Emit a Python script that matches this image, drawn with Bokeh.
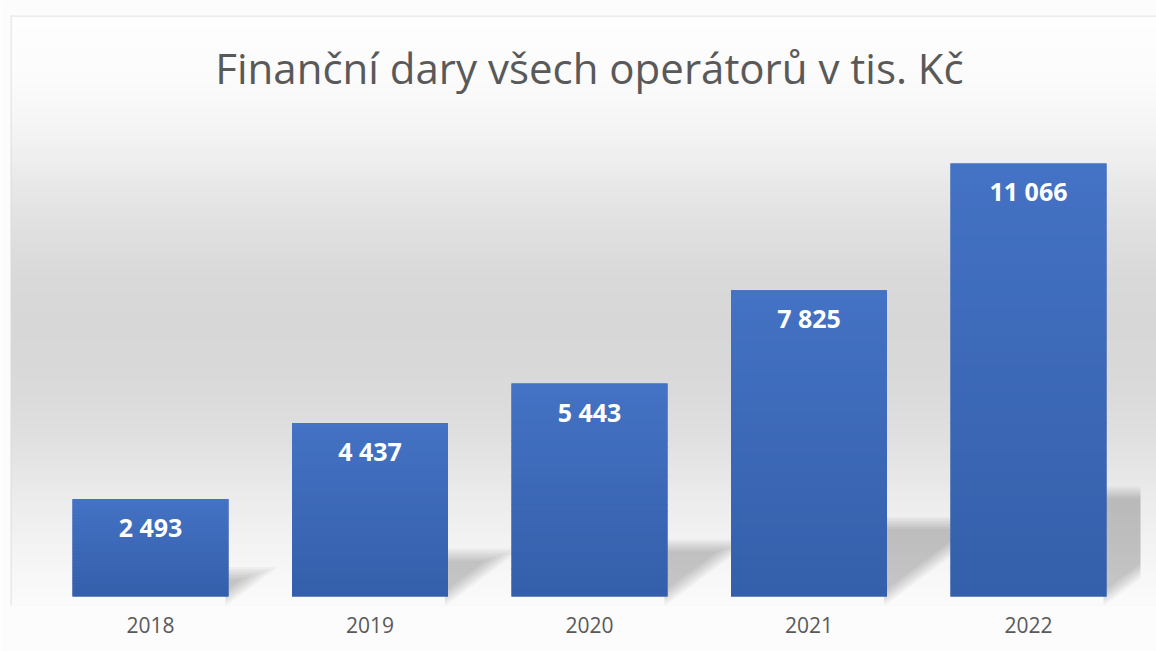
import numpy as np
from bokeh.plotting import figure
from bokeh.models import Range1d, Label, Span, FixedTicker
from bokeh.core.properties import value
from bokeh.embed import file_html
from bokeh.resources import INLINE

# ---- data ----
years = ["2018", "2019", "2020", "2021", "2022"]
donations = [2493, 4437, 5443, 7825, 11066]
title_text = "Finanční dary všech operátorů v tis. Kč"

# ---- layout constants (page px -> data) ----
PX_X = 219.5          # px per category
PX_Y = 0.03913        # px per unit
X0_PAGE = 150.0       # page x of first category
Y0_PAGE = 596.0       # page y of value 0
W, H_FIG = 1156, 651
FRAME_L, FRAME_R, FRAME_T, FRAME_B = 10.0, 1156.0, 15.0, 605.0

def dx(page_x):
    return (page_x - X0_PAGE) / PX_X

def dy(page_y):
    return (Y0_PAGE - page_y) / PX_Y

x_start, x_end = dx(FRAME_L), dx(FRAME_R)
y_start, y_end = dy(FRAME_B), dy(FRAME_T)

p = figure(width=W, height=H_FIG,
           x_range=Range1d(x_start, x_end), y_range=Range1d(y_start, y_end),
           output_backend="svg", toolbar_location=None, y_axis_location=None,
           min_border_left=int(FRAME_L), min_border_right=0, min_border_top=int(FRAME_T),
           min_border_bottom=int(H_FIG - FRAME_B))
p.background_fill_color = "#f0f0f0"
p.border_fill_color = "#fcfcfc"
p.outline_line_color = None
p.grid.visible = False

# ---- background gradient (style) ----
stops_y = [15, 80, 120, 160, 200, 240, 280, 320, 360, 400, 440, 470, 500, 540, 580, 610, 643]
stops_g = [254, 251, 246, 238, 229, 222, 217, 215, 216, 219, 224, 230, 236, 242, 248, 251, 252]
edges = np.arange(FRAME_T, FRAME_B + 4, 4.0)
tops, bots, cols = [], [], []
for a, b in zip(edges[:-1], edges[1:]):
    g = int(round(np.interp((a + b) / 2, stops_y, stops_g)))
    tops.append(dy(a) + 0.5 / PX_Y)
    bots.append(dy(b))
    cols.append("#%02x%02x%02x" % (g, g, g))
p.quad(left=x_start, right=x_end, top=tops, bottom=bots, fill_color=cols, line_color=None)

# ---- bars ----
idx = list(range(len(years)))
bar_w = 156 / PX_X

# shadows (blurred triangle behind each bar's right side)
SH_B = 0.24
SH_S = 0.75
clip_x = dx(1140)

def clip_poly(xs, ys, xmax):
    out = []
    pts = list(zip(xs, ys))
    for i in range(len(pts)):
        (x1, y1), (x2, y2) = pts[i], pts[(i + 1) % len(pts)]
        in1, in2 = x1 <= xmax, x2 <= xmax
        if in1:
            out.append((x1, y1))
        if in1 != in2:
            t = (xmax - x1) / (x2 - x1)
            out.append((xmax, y1 + t * (y2 - y1)))
    return [q[0] for q in out], [q[1] for q in out]

sx, sy = [], []
for i, v in zip(idx, donations):
    H = v * PX_Y
    T = SH_B * H
    k = np.sqrt(1 + SH_S ** 2)
    xr = i + bar_w / 2
    for d in [-6, -4, -2, 0, 2, 4, 6]:
        ytr = T - d
        xtr = (ytr - d * k) / SH_S
        if xtr <= 0:
            continue
        px = [-3.0, xtr, -3.0]
        py = [ytr, ytr, -3.0 * SH_S + d * k]
        xs = [xr + q / PX_X for q in px]
        ys = [q / PX_Y for q in py]
        xs, ys = clip_poly(xs, ys, clip_x)
        sx.append(xs)
        sy.append(ys)
p.patches(xs=sx, ys=sy, fill_color="black", fill_alpha=0.033, line_color=None)

# base bars
p.vbar(x=idx, top=donations, bottom=0, width=bar_w, fill_color="#3c69b8", line_color=None)

# gradient slices on bars (style)
top_rgb = np.array([0x44, 0x72, 0xc4])
bot_rgb = np.array([0x34, 0x5f, 0xaa])
N = 30
gl, gr, gt, gb, gc = [], [], [], [], []
for i, v in zip(idx, donations):
    for s in range(N):
        f = (s + 0.5) / N
        c = top_rgb * (1 - f) + bot_rgb * f
        gl.append(i - bar_w / 2)
        gr.append(i + bar_w / 2)
        gt.append(v * (1 - s / N))
        gb.append(max(0.0, v * (1 - (s + 1) / N) - (0 if s == N - 1 else 0.6 / PX_Y)))
        gc.append("#%02x%02x%02x" % tuple(int(round(q)) for q in c))
p.quad(left=gl, right=gr, top=gt, bottom=gb, fill_color=gc, line_color=None)

# value labels
labels = [f"{v:,}".replace(",", " ") for v in donations]
p.text(x=idx, y=donations, text=labels, text_font=value("Open Sans"), text_font_style="bold",
       text_font_size="25px", text_color="white", text_align="center", text_baseline="middle",
       y_offset=28)

# title
p.add_layout(Label(x=2, y=dy(67.0), text=title_text, text_font="Open Sans", text_font_size="42px",
                   text_color="#595959", text_align="center", text_baseline="alphabetic"))

# chart border (left/top)
p.add_layout(Span(location=x_start + 0.5 / PX_X, dimension="height", line_color="#d9d9d9", line_width=1))
p.add_layout(Span(location=y_end - 0.5 / PX_Y, dimension="width", line_color="#d9d9d9", line_width=1))

# x axis
ax = p.xaxis[0]
ax.ticker = FixedTicker(ticks=idx)
ax.major_label_overrides = {i: y for i, y in zip(idx, years)}
ax.axis_line_color = None
ax.major_tick_line_color = None
ax.minor_tick_line_color = None
ax.major_tick_out = 0
ax.major_tick_in = 0
ax.major_label_standoff = 11
ax.major_label_text_font = "Open Sans"
ax.major_label_text_font_size = "21px"
ax.major_label_text_color = "#595959"

open("out.html", "w").write(file_html(p, INLINE))
